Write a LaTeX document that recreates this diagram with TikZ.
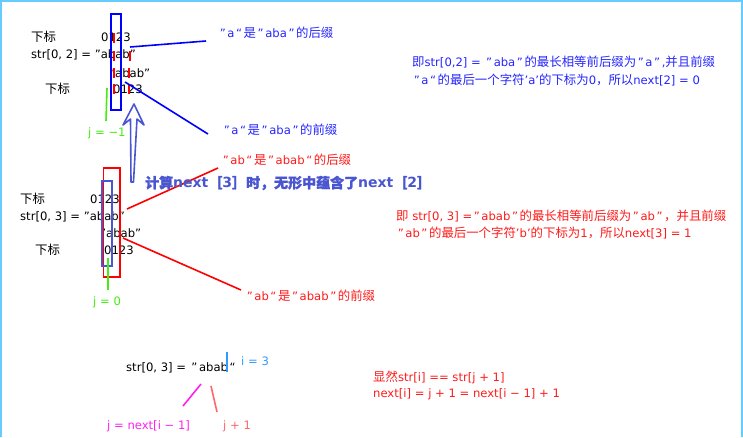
\documentclass[tikz,border=0pt]{standalone}
\usepackage{fontspec}
\setmainfont{DejaVu Sans}
\newfontfamily\cjkf[Scale=1.07]{Noto Sans CJK SC}
\newfontfamily\cjkbf[FakeBold=1.6]{Noto Sans CJK SC}
\newcommand\zh[1]{{\cjkf #1}}
\newcommand\zhb[1]{{\cjkbf #1}}
\newcommand\Q[1]{\kern1.6pt#1\kern1.6pt}
\definecolor{frame}{HTML}{66CCFF}
\definecolor{tblue}{HTML}{2626FF}
\definecolor{tred}{HTML}{FF1A1A}
\definecolor{tgreen}{HTML}{44EE11}
\definecolor{arrowblue}{HTML}{4A55D0}
\definecolor{ilblue}{HTML}{3399FF}
\definecolor{tmag}{HTML}{FF22EE}
\definecolor{salmon}{HTML}{FF6666}
\tikzset{
  txt/.style={anchor=west,inner sep=0pt,font=\fontsize{11.6}{14}\selectfont},
  bigtxt/.style={anchor=west,inner sep=0pt,font=\fontsize{14}{17}\selectfont\bfseries,text=arrowblue},
  cursor/.style={draw=red,line width=2pt},
  lead/.style={line width=1.6pt},
}
\begin{document}
\begin{tikzpicture}[x=1pt,y=-1pt]
\useasboundingbox (0,0) rectangle (743,437);
\fill[white] (0,0) rectangle (743,437);
% frame
\fill[frame] (0,0) rectangle (743,2);
\fill[frame] (0,0) rectangle (2,437);
\fill[frame] (741,0) rectangle (743,437);

% ---------- block 1 ----------
\node[txt] (b1l1) at (31,37) {\zh{下标}};
\node[txt] (b1i1) at (101,37) {0123};
\node[txt] (b1s) at (31,55) {str[0, 2] = "abab"};
\node[txt] (b1t) at (109,73) {"abab"};
\node[txt] (b1l2) at (45,89) {\zh{下标}};
\node[txt] (b1i2) at (113,89) {0123};
\draw[cursor] (114,33) -- (114,43);
\draw[cursor] (114,51) -- (114,61);
\draw[cursor] (130,51) -- (130,61);
\draw[cursor] (114,68) -- (114,78);
\draw[cursor] (129,68) -- (129,78);
\draw[cursor] (114,84) -- (114,94);
\draw[cursor] (129,84) -- (129,94);
\node[draw=blue,line width=1.6pt,inner sep=0pt,minimum width=10pt,minimum height=96pt] (b1box) at (116,62) {};
\coordinate (b1a) at (130,47);
\coordinate (b1b) at (125,82);
\node[txt,text=tblue] (b1suf) at (218,33) {\Q{”}a\Q{“}\zh{是}\Q{”}aba\Q{”}\zh{的后缀}};
\node[txt,text=tblue] (b1pre) at (222,130) {\Q{”}a\Q{“}\zh{是}\Q{”}aba\Q{”}\zh{的前缀}};
\draw[lead,blue] (b1a) -- ([xshift=-12pt,yshift=-8pt]b1suf.west);
\draw[lead,blue] (b1b) -- ([xshift=-14pt,yshift=-4pt]b1pre.west);
\coordinate (g1a) at (107,88);
\coordinate (g1b) at (106,121);
\draw[tgreen,line width=1.6pt] (g1a) -- (g1b);
\node[txt,text=tgreen] (j1) at (88,133) {j = −1};
\node[txt,text=tblue] (r1a) at (412,62) {\zh{即}str[0,2] = \Q{”}aba\Q{”}\zh{的最长相等前后缀为}\Q{”}a\Q{”},\zh{并且前缀}};
\node[txt,text=tblue] (r1b) at (412,80) {\Q{”}a\Q{“}\zh{的最后一个字符}’a’\zh{的下标为}0\zh{，所以}next[2] = 0};

% hollow arrow
\draw[arrowblue,line width=1.6pt,line join=round]
  (134,104) -- (144,125) -- (137,119) -- (133.5,182) -- (131,182) -- (130.5,119) -- (123,125) -- cycle;

% ---------- block 2 ----------
\node[txt] (b2l1) at (20,199) {\zh{下标}};
\node[txt] (b2i1) at (90,199) {0123};
\node[txt] (b2s) at (20,217) {str[0, 3] = "abab"};
\node[txt] (b2t) at (100,233) {"abab"};
\node[txt] (b2l2) at (35,250) {\zh{下标}};
\node[txt] (b2i2) at (104,250) {0123};
\node[draw=red,line width=1.6pt,inner sep=0pt,minimum width=16.5pt,minimum height=109pt] (b2red) at (111.75,222.5) {};
\node[draw=arrowblue,line width=1.6pt,inner sep=0pt,minimum width=10pt,minimum height=85pt] (b2blue) at (107,223.5) {};
\coordinate (b2a) at (127,209);
\coordinate (b2b) at (123,238);
\node[txt,text=tred] (b2suf) at (221,160) {\Q{”}ab\Q{“}\zh{是}\Q{”}abab\Q{“}\zh{的后缀}};
\node[txt,text=tred] (b2pre) at (245,296) {\Q{”}ab\Q{“}\zh{是}\Q{”}abab\Q{”}\zh{的前缀}};
\draw[lead,red] (b2a) -- (218,168);
\draw[lead,red] (b2b) -- (241,290);
\coordinate (g2a) at (108,258);
\coordinate (g2b) at (108,290);
\draw[tgreen,line width=1.6pt] (g2a) -- (g2b);
\node[txt,text=tgreen] (j2) at (93,302) {j = 0};
\node[bigtxt] (cap) at (145,183) {\zhb{计算}next\zhb{［}3\zhb{］时，无形中蕴含了}next\zhb{［}2\zhb{］}};
\node[txt,text=tred] (r2a) at (396,216) {\zh{即} str[0, 3] =\Q{”}abab\Q{”}\zh{的最长相等前后缀为}\Q{”}ab\Q{”}\zh{，并且前缀}};
\node[txt,text=tred] (r2b) at (396,233) {\Q{”}ab\Q{”}\zh{的最后一个字符}’b’\zh{的下标为}1\zh{，所以}next[3] = 1};

% ---------- block 3 ----------
\node[txt] (b3s) at (126,368) {str[0, 3] = \Q{”}abab\Q{“}};
\coordinate (i1) at (227,352);
\coordinate (i2) at (227,372);
\draw[ilblue,line width=1.6pt] (i1) -- (i2);
\node[txt,text=ilblue] (ilab) at (241,361) {i = 3};
\coordinate (m1) at (201,384);
\coordinate (m2) at (183,406);
\draw[tmag,line width=1.6pt] (m1) -- (m2);
\node[txt,text=tmag] (jlab) at (107,426) {j = next[i − 1]};
\coordinate (s1) at (211,386);
\coordinate (s2) at (217,412);
\draw[salmon,line width=1.6pt] (s1) -- (s2);
\node[txt,text=salmon] (jp1) at (223,426) {j + 1};
\node[txt,text=tred] (r3a) at (373,377) {\zh{显然}str[i] == str[j + 1]};
\node[txt,text=tred] (r3b) at (373,394) {next[i] = j + 1 = next[i − 1] + 1};
\end{tikzpicture}
\end{document}
